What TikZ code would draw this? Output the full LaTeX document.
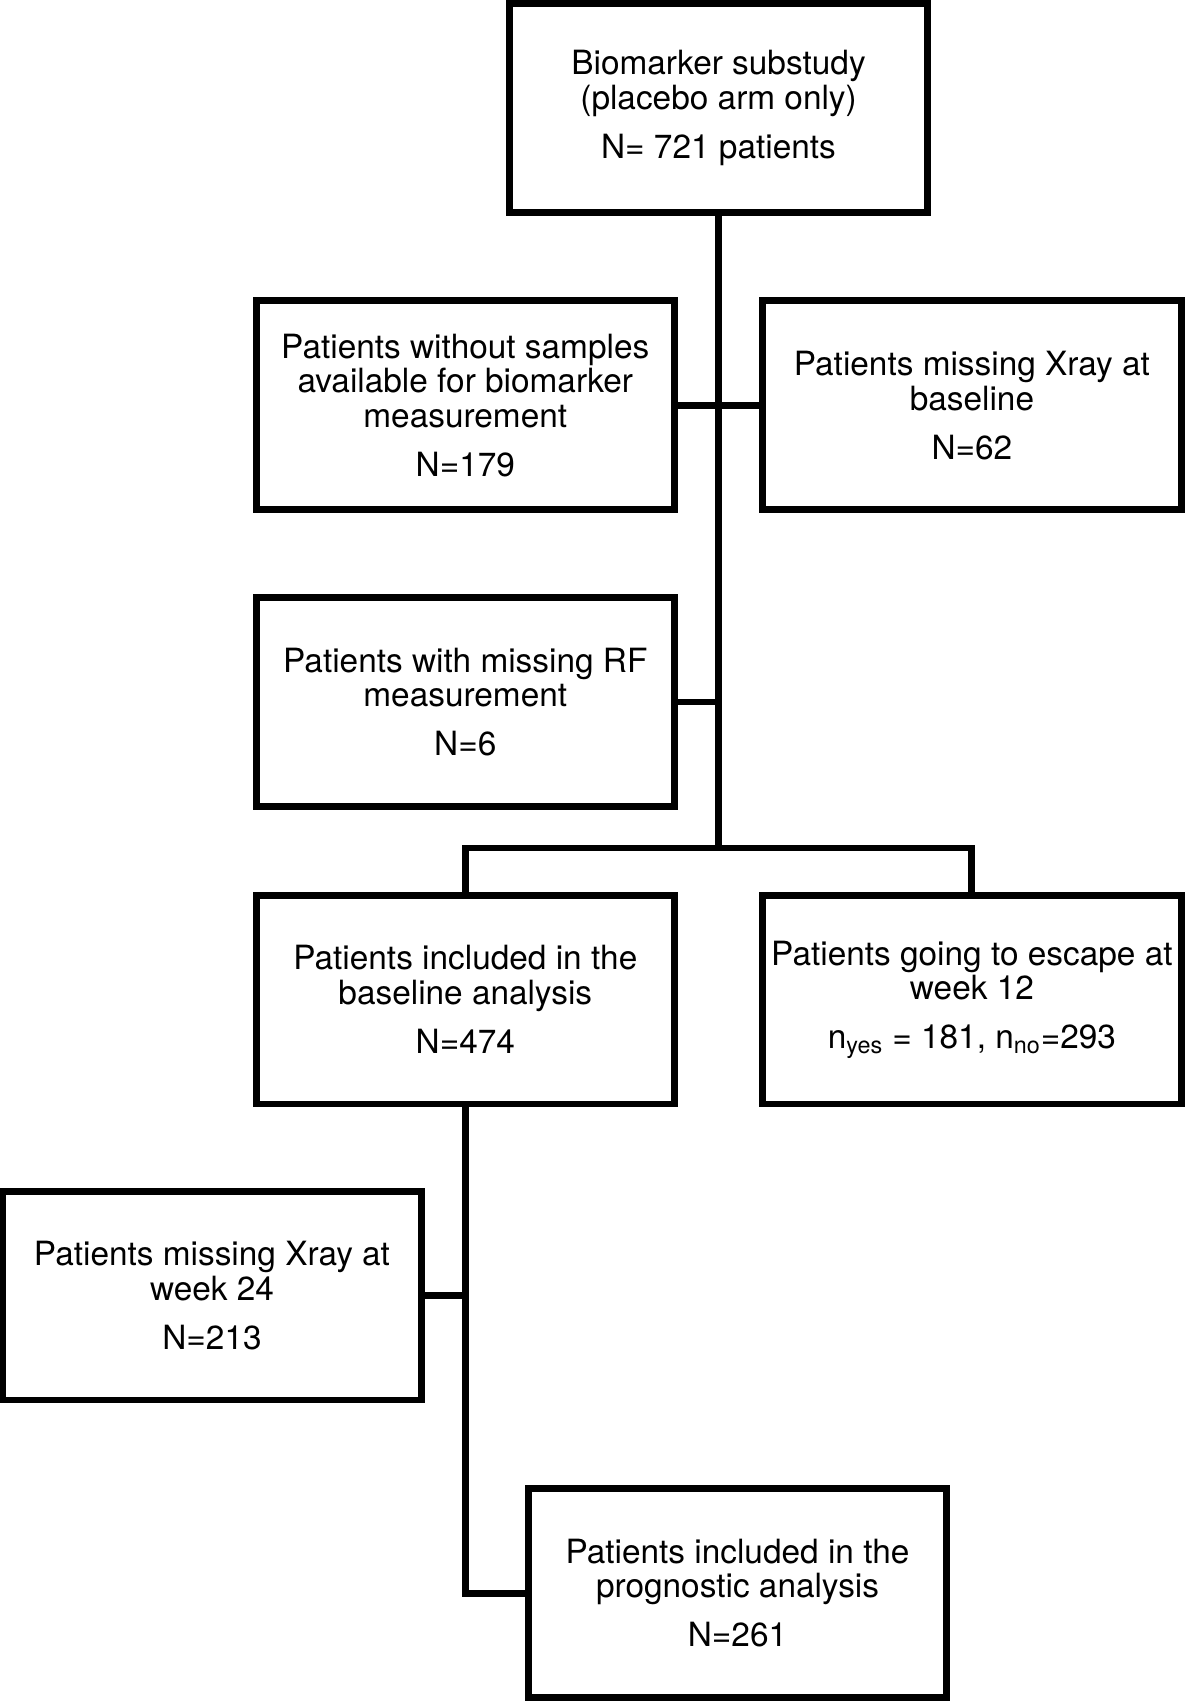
\documentclass[tikz,border=0pt]{standalone}
\usepackage{fontspec}
\setmainfont{TeX Gyre Heros}
\usepackage{tikz}
\usetikzlibrary{calc}
\usetikzlibrary{positioning}

\begin{document}
\begin{tikzpicture}[x=0.02cm, y=-0.02cm,
    every node/.append style={font=\fontsize{19}{19.8}\selectfont},
    box/.style={draw, line width=3.97pt, rectangle, align=center,
      inner sep=0pt, minimum width=8.37cm, minimum height=4.18cm},
    link/.style={line width=3.97pt}]

    \useasboundingbox (0, 0) rectangle (1185, 1702);

    \node [box] (top) at (718.5, 108)
    {Biomarker substudy\\(placebo arm only)\\[8pt]N= 721 patients};

    \node [box] (nosample) at (465.3, 405.3)
    {Patients without samples\\available for biomarker\\measurement\\[8pt]N=179};

    \node [box] (noxray) at (971.9, 405.3)
    {Patients missing Xray at\\baseline\\[8pt]N=62};

    \node [box] (norf) at (465.3, 702)
    {Patients with missing RF\\measurement\\[8pt]N=6};

    \node [box] (base) at (465.3, 999.5)
    {Patients included in the\\baseline analysis\\[8pt]N=474};

    \node [box] (escape) at (971.9, 999.5)
    {Patients going to escape at\\week 12\\[8pt]n\textsubscript{yes} = 181, n\textsubscript{no}=293};

    \node [box] (wk24) at (212, 1295.5)
    {Patients missing Xray at\\week 24\\[8pt]N=213};

    \node [box] (prog) at (737.5, 1593)
    {Patients included in the\\prognostic analysis\\[8pt]N=261};

    \coordinate (split) at (718.5, 848);

    % main trunk
    \draw [link] (top.south) -- (split);
    \draw [link] (nosample.east) -- (noxray.west);
    \draw [link] (norf.east) -- (norf.east -| split);
    \draw [link] (base.north) |- (split) -| (escape.north);

    % lower branch
    \draw [link] (base.south) |- (prog.west);
    \draw [link] (wk24.east) -- (wk24.east -| base.south);

\end{tikzpicture}
\end{document}
